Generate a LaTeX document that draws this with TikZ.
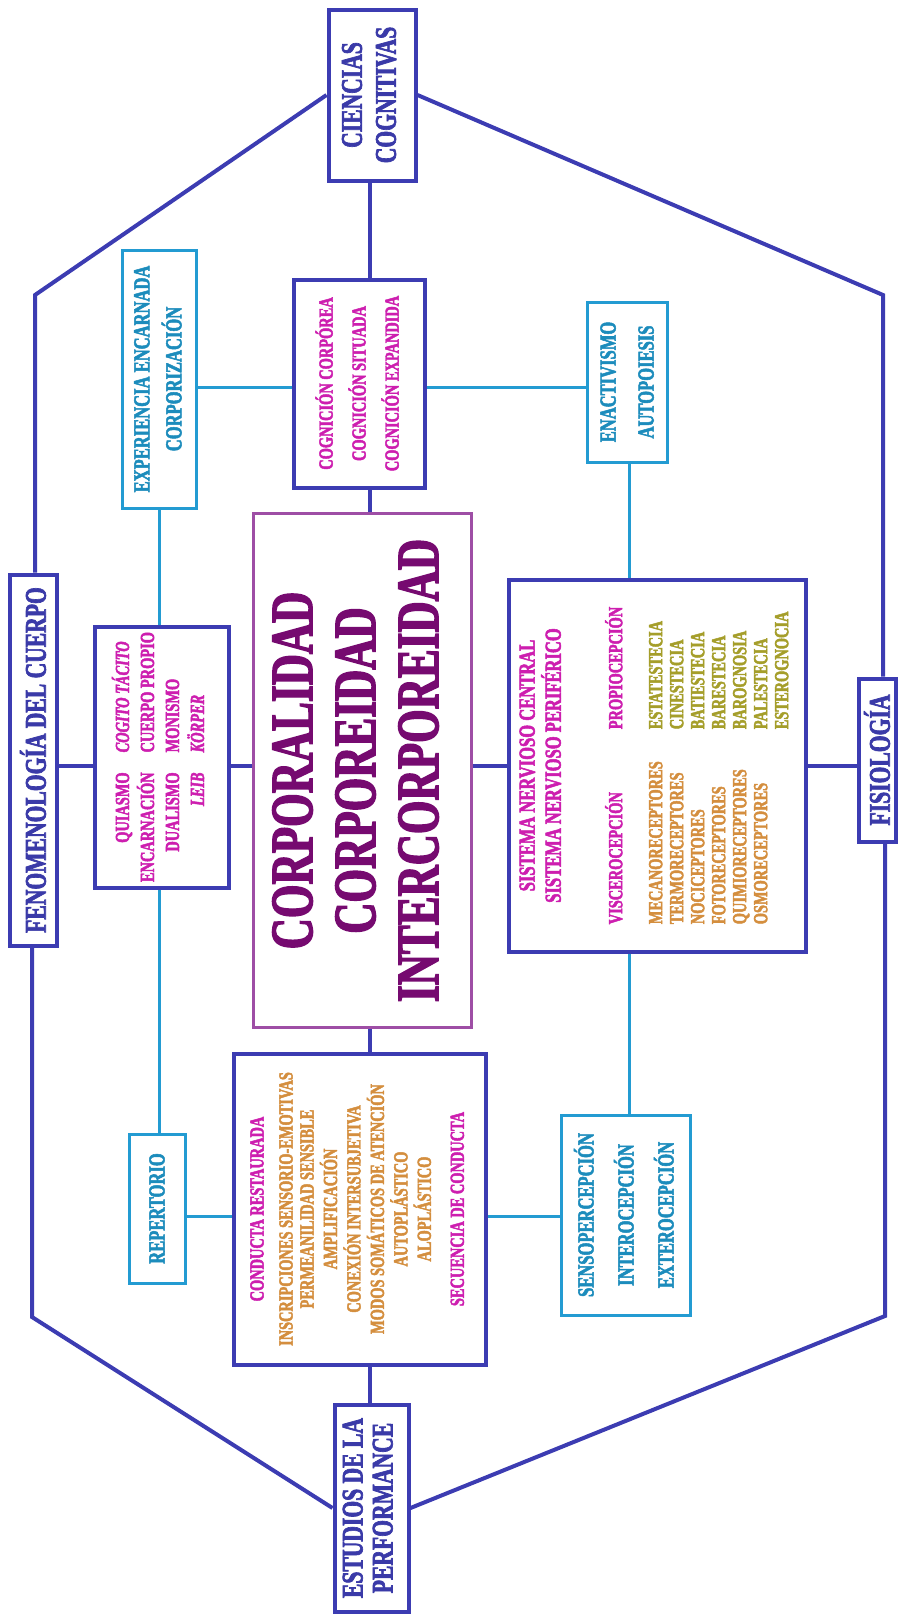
\documentclass[tikz,border=0pt]{standalone}
\usepackage{fontspec}
\usepackage{array}
\setmainfont{Liberation Serif Bold}[FakeStretch=0.72, FakeBold=2.2,
  BoldFont={Liberation Serif Bold},
  ItalicFont={Liberation Serif Bold Italic},
  BoldItalicFont={Liberation Serif Bold Italic}]
\definecolor{dblue}{RGB}{60,60,178}
\definecolor{lblue}{RGB}{35,155,210}
\definecolor{tblue}{RGB}{58,58,168}
\definecolor{teal}{RGB}{28,140,188}
\definecolor{mag}{RGB}{205,30,175}
\definecolor{orng}{RGB}{212,142,62}
\definecolor{olv}{RGB}{165,158,42}
\definecolor{pbord}{RGB}{158,78,165}
\definecolor{cpurp}{RGB}{118,10,112}
\newcommand\rot[1]{\rotatebox{90}{#1}}
\begin{document}
\begin{tikzpicture}[x=1pt,y=-1pt,
  dbox/.style={draw=dblue, line width=4pt, inner sep=0pt, fill=white},
  lbox/.style={draw=lblue, line width=3pt, inner sep=0pt, fill=white},
  dline/.style={draw=dblue, line width=4pt},
  lline/.style={draw=lblue, line width=3pt},
  ttl/.style={text=tblue},
  tl/.style={text=teal}]
\useasboundingbox (0,0) rectangle (898,1617);

% ---- nodes ----
\node[dbox, ttl, minimum width=87pt, minimum height=171pt,
  font={\fontsize{30}{34}\selectfont}] (ciencias) at (372,95)
  {\rot{\begin{tabular}{@{}c@{}}CIENCIAS\\COGNITIVAS\end{tabular}}};
\node[dbox, text=mag, minimum width=131pt, minimum height=208pt,
  font={\fontsize{20}{33}\selectfont}] (cog) at (359,383.5)
  {\rot{\begin{tabular}{@{}c@{}}COGNICIÓN CORPÓREA\\COGNICIÓN SITUADA\\COGNICIÓN EXPANDIDA\end{tabular}}};
\node[lbox, tl, minimum width=74pt, minimum height=258pt,
  font={\fontsize{23}{32}\selectfont}] (exper) at (159,379)
  {\rot{\begin{tabular}{@{}c@{}}EXPERIENCIA ENCARNADA\\CORPORIZACIÓN\end{tabular}}};
\node[lbox, tl, minimum width=80pt, minimum height=160pt,
  font={\fontsize{23}{38}\selectfont}] (enact) at (627,382)
  {\rot{\begin{tabular}{@{}c@{}}ENACTIVISMO\\AUTOPOIESIS\end{tabular}}};
\node[dbox, ttl, minimum width=47pt, minimum height=371pt,
  font={\fontsize{30}{32}\selectfont}] (fenom) at (33,760)
  {\rot{FENOMENOLOGÍA DEL CUERPO}};
\node[dbox, text=mag, minimum width=134pt, minimum height=261pt,
  font={\fontsize{20}{25}\selectfont}] (quiasmo) at (161.5,757)
  {\rot{\begin{tabular}{@{}r@{\hspace{20pt}}l@{}}
  QUIASMO & \itshape COGITO TÁCITO\\
  ENCARNACIÓN & CUERPO PROPIO\\
  DUALISMO & MONISMO\\
  \itshape LEIB & \itshape KÖRPER
  \end{tabular}}};
\node[draw=pbord, line width=3pt, inner sep=0pt, fill=white, text=cpurp,
  minimum width=218pt, minimum height=514pt,
  font={\fontsize{60}{63}\selectfont}] (central) at (362.5,770.5)
  {\rot{\begin{tabular}{@{}c@{}}CORPORALIDAD\\CORPOREIDAD\\INTERCORPOREIDAD\end{tabular}}};
\node[dbox, text=mag, minimum width=297pt, minimum height=372pt,
  font={\fontsize{20}{21}\selectfont}] (sist) at (657,765.5)
  {\rot{\begin{tabular}{@{}w{l}{195pt}@{}l@{}}
  \multicolumn{2}{@{}c@{}}{\fontsize{23}{21}\selectfont SISTEMA NERVIOSO CENTRAL}\\
  \multicolumn{2}{@{}c@{}}{\fontsize{23}{21}\selectfont SISTEMA NERVIOSO PERIFÉRICO}\\[38pt]
  VISCEROCEPCIÓN & PROPIOCEPCIÓN\\[19pt]
  \color{orng}MECANORECEPTORES & \color{olv}ESTATESTECIA\\
  \color{orng}TERMORECEPTORES & \color{olv}CINESTECIA\\
  \color{orng}NOCICEPTORES & \color{olv}BATIESTECIA\\
  \color{orng}FOTORECEPTORES & \color{olv}BARESTECIA\\
  \color{orng}QUIMIORECEPTORES & \color{olv}BAROGNOSIA\\
  \color{orng}OSMORECEPTORES & \color{olv}PALESTECIA\\
   & \color{olv}ESTEROGNOCIA
  \end{tabular}}};
\node[dbox, ttl, minimum width=37pt, minimum height=163pt,
  font={\fontsize{30}{32}\selectfont}] (fisio) at (877,760)
  {\rot{FISIOLOGÍA}};
\node[lbox, tl, minimum width=56pt, minimum height=149pt,
  font={\fontsize{23}{26}\selectfont}] (repert) at (157,1208.5)
  {\rot{REPERTORIO}};
\node[dbox, text=orng, minimum width=252pt, minimum height=311pt,
  font={\fontsize{20}{21}\selectfont}] (conducta) at (359.5,1209)
  {\rot{\begin{tabular}{@{}c@{}}
  \color{mag}CONDUCTA RESTAURADA\\[8pt]
  INSCRIPCIONES SENSORIO-EMOTIVAS\\
  PERMEANILIDAD SENSIBLE\\
  AMPLIFICACIÓN\\
  CONEXIÓN INTERSUBJETIVA\\
  MODOS SOMÁTICOS DE ATENCIÓN\\
  AUTOPLÁSTICO\\
  ALOPLÁSTICO\\[12pt]
  \color{mag}SECUENCIA DE CONDUCTA
  \end{tabular}}};
\node[lbox, tl, minimum width=129pt, minimum height=200pt,
  font={\fontsize{23}{40}\selectfont}] (senso) at (625.5,1215)
  {\rot{\begin{tabular}{@{}c@{}}SENSOPERCEPCIÓN\\INTEROCEPCIÓN\\EXTEROCEPCIÓN\end{tabular}}};
\node[dbox, ttl, minimum width=74pt, minimum height=207pt,
  font={\fontsize{30}{30}\selectfont}] (estudios) at (371.5,1508)
  {\rot{\begin{tabular}{@{}c@{}}ESTUDIOS DE LA\\PERFORMANCE\end{tabular}}};

% ---- helper coordinates ----
\coordinate (hTL) at (35,295);
\coordinate (hTR) at (883,295);
\coordinate (hBR) at (885,1316);
\coordinate (hBL) at (32,1317);
\coordinate (c0) at (159,0);
\coordinate (c1) at (370,0);
\coordinate (c2) at (629,0);
\coordinate (r1) at (0,387);
\coordinate (r2) at (0,766);
\coordinate (r3) at (0,1216);

% ---- outer hexagon ----
\draw[dline] (ciencias.west) -- (hTL) -- (hTL |- fenom.north);
\draw[dline] (ciencias.east) -- (hTR) -- (hTR |- fisio.north);
\draw[dline] (hBR |- fisio.south) -- (hBR) -- (estudios.east);
\draw[dline] (estudios.west) -- (hBL) -- (hBL |- fenom.south);

% ---- central column ----
\draw[dline] (c1 |- ciencias.south) -- (c1 |- cog.north);
\draw[dline] (c1 |- cog.south) -- (c1 |- central.north);
\draw[dline] (c1 |- central.south) -- (c1 |- conducta.north);
\draw[dline] (c1 |- conducta.south) -- (c1 |- estudios.north);

% ---- main row ----
\draw[dline] (fenom.east |- r2) -- (quiasmo.west |- r2);
\draw[dline] (quiasmo.east |- r2) -- (central.west |- r2);
\draw[dline] (central.east |- r2) -- (sist.west |- r2);
\draw[dline] (sist.east |- r2) -- (fisio.west |- r2);

% ---- light connectors ----
\draw[lline] (exper.east |- r1) -- (cog.west |- r1);
\draw[lline] (cog.east |- r1) -- (enact.west |- r1);
\draw[lline] (repert.east |- r3) -- (conducta.west |- r3);
\draw[lline] (conducta.east |- r3) -- (senso.west |- r3);
\draw[lline] (c0 |- exper.south) -- (c0 |- quiasmo.north);
\draw[lline] (c0 |- quiasmo.south) -- (c0 |- repert.north);
\draw[lline] (c2 |- enact.south) -- (c2 |- sist.north);
\draw[lline] (c2 |- sist.south) -- (c2 |- senso.north);
\end{tikzpicture}
\end{document}
